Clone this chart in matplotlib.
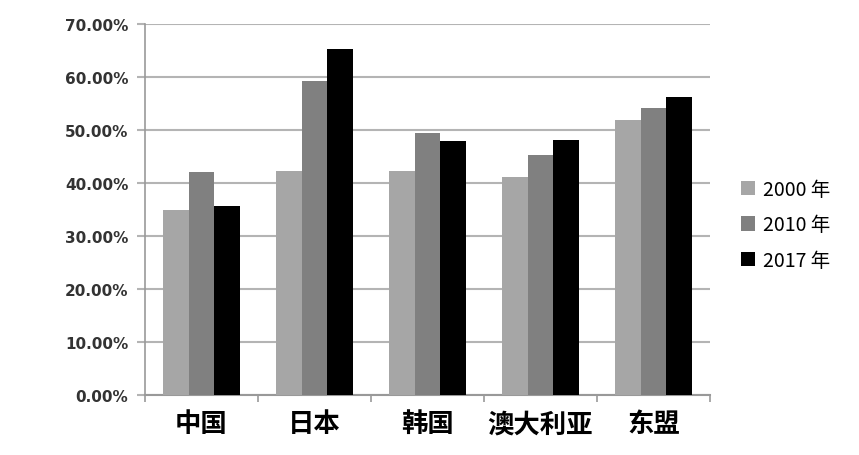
import numpy as np
import matplotlib.pyplot as plt

# 数据
regioes = ['中国', '日本', '韩国', '澳大利亚', '东盟']
anos = ['2000 年', '2010 年', '2017 年']
v2000 = [34.9, 42.3, 42.3, 41.1, 51.9]
v2010 = [42.0, 59.3, 49.4, 45.2, 54.1]
v2017 = [35.6, 65.2, 47.9, 48.2, 56.2]
yticks = [0, 10, 20, 30, 40, 50, 60, 70]

cores = ['#a6a6a6', '#808080', '#000000']
cinza = '#b4b4b4'

fig = plt.figure(figsize=(8.59, 4.56), dpi=100)
ax = fig.add_axes([0.1688, 0.1316, 0.6577, 0.8136])

x = np.arange(len(regioes))
w = 0.226
series = [v2000, v2010, v2017]
barras = []
for i, (vals, cor) in enumerate(zip(series, cores)):
    b = ax.bar(x + (i - 1) * w, vals, width=w, color=cor, zorder=3, label=anos[i])
    barras.append(b)

ax.set_xlim(-0.5, len(regioes) - 0.5)
ax.set_ylim(0, 70)

# eixo y
ax.set_yticks(yticks)
ax.set_yticklabels(['%.2f%%' % v for v in yticks], fontsize=11, fontweight='bold',
                   color='#333333', family='DejaVu Sans')
ax.tick_params(axis='y', length=6, width=1.5, color=cinza, pad=6)
ax.grid(axis='y', color=cinza, linewidth=1.5, zorder=0)

# eixo x
ax.set_xticks(x)
ax.set_xticklabels(regioes, fontsize=19, fontweight='bold', family='Noto Sans CJK SC')
ax.set_xticks(np.arange(-0.5, len(regioes)), minor=True)
ax.tick_params(axis='x', which='major', length=0, pad=11)
ax.tick_params(axis='x', which='minor', length=5, width=1.2, color='#999999')

for s in ['top', 'right']:
    ax.spines[s].set_visible(False)
ax.spines['left'].set_color('#999999')
ax.spines['bottom'].set_color('#999999')
ax.spines['left'].set_linewidth(1.2)
ax.spines['bottom'].set_linewidth(1.5)

leg = fig.legend(handles=barras, labels=anos, loc='center left',
                 bbox_to_anchor=(0.842, 0.505), frameon=False,
                 prop={'family': 'Noto Sans CJK SC', 'size': 14},
                 handlelength=0.75, handleheight=0.75, handletextpad=0.4,
                 labelspacing=0.75)

plt.savefig('out.png', dpi=100)
